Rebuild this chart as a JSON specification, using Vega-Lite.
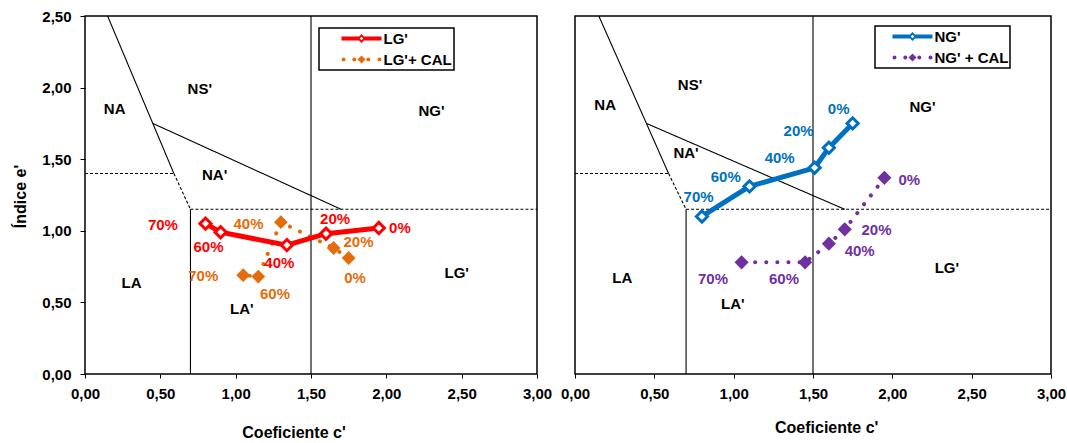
{
  "$schema": "https://vega.github.io/schema/vega-lite/v6.json",
  "background": "white",
  "padding": {"left": 11, "top": 8, "right": 0, "bottom": 0},
  "bounds": "flush",
  "spacing": 38,
  "config": {
    "view": {"stroke": "#000000", "strokeWidth": 1.5},
    "font": "Liberation Sans",
    "axis": {
      "grid": false, "domain": false,
      "labelFont": "Liberation Sans", "labelFontWeight": "bold", "labelFontSize": 15, "labelColor": "#000000",
      "titleFont": "Liberation Sans", "titleFontWeight": "bold", "titleFontSize": 16, "titleColor": "#000000",
      "tickColor": "#000000", "labelFlush": false, "labelOverlap": false
    },
    "text": {"font": "Liberation Sans", "fontWeight": "bold", "fontSize": 15}
  },
  "resolve": {
    "scale": {"color": "independent", "x": "independent", "y": "independent", "strokeDash": "independent"},
    "legend": {"color": "independent"}
  },
  "datasets": {
    "bounds": [
      {"seg": "a", "style": "solid", "ord": 1, "c": 0.15, "e": 2.5},
      {"seg": "a", "style": "solid", "ord": 2, "c": 0.59, "e": 1.4},
      {"seg": "b", "style": "dash", "ord": 1, "c": 0.59, "e": 1.4},
      {"seg": "b", "style": "dash", "ord": 2, "c": 0.7, "e": 1.15},
      {"seg": "c", "style": "solid", "ord": 1, "c": 0.45, "e": 1.75},
      {"seg": "c", "style": "solid", "ord": 2, "c": 1.7, "e": 1.15},
      {"seg": "d", "style": "dash", "ord": 1, "c": 0, "e": 1.4},
      {"seg": "d", "style": "dash", "ord": 2, "c": 0.59, "e": 1.4},
      {"seg": "e", "style": "dash", "ord": 1, "c": 0.7, "e": 1.15},
      {"seg": "e", "style": "dash", "ord": 2, "c": 3, "e": 1.15},
      {"seg": "f", "style": "solid", "ord": 1, "c": 0.7, "e": 0},
      {"seg": "f", "style": "solid", "ord": 2, "c": 0.7, "e": 1.15},
      {"seg": "g", "style": "solid", "ord": 1, "c": 1.5, "e": 0},
      {"seg": "g", "style": "solid", "ord": 2, "c": 1.5, "e": 2.5}
    ],
    "regions": [
      {"panel": "L", "name": "NA", "c": 0.197, "e": 1.848},
      {"panel": "L", "name": "NS'", "c": 0.762, "e": 1.988},
      {"panel": "L", "name": "NG'", "c": 2.30, "e": 1.837},
      {"panel": "L", "name": "NA'", "c": 0.86, "e": 1.39},
      {"panel": "L", "name": "LA", "c": 0.309, "e": 0.638},
      {"panel": "L", "name": "LA'", "c": 1.041, "e": 0.452},
      {"panel": "L", "name": "LG'", "c": 2.467, "e": 0.708},
      {"panel": "R", "name": "NA", "c": 0.19, "e": 1.877},
      {"panel": "R", "name": "NS'", "c": 0.725, "e": 2.02},
      {"panel": "R", "name": "NG'", "c": 2.19, "e": 1.865},
      {"panel": "R", "name": "NA'", "c": 0.70, "e": 1.545},
      {"panel": "R", "name": "LA", "c": 0.298, "e": 0.672},
      {"panel": "R", "name": "LA'", "c": 0.995, "e": 0.486},
      {"panel": "R", "name": "LG'", "c": 2.344, "e": 0.742}
    ],
    "series": [
      {"series": "LG'", "pct": 0, "c": 1.95, "e": 1.02},
      {"series": "LG'", "pct": 20, "c": 1.60, "e": 0.98},
      {"series": "LG'", "pct": 40, "c": 1.34, "e": 0.90},
      {"series": "LG'", "pct": 60, "c": 0.90, "e": 0.99},
      {"series": "LG'", "pct": 70, "c": 0.80, "e": 1.05},
      {"series": "LG'+ CAL", "pct": 0, "c": 1.75, "e": 0.81},
      {"series": "LG'+ CAL", "pct": 20, "c": 1.65, "e": 0.88},
      {"series": "LG'+ CAL", "pct": 40, "c": 1.30, "e": 1.06},
      {"series": "LG'+ CAL", "pct": 60, "c": 1.15, "e": 0.68},
      {"series": "LG'+ CAL", "pct": 70, "c": 1.05, "e": 0.69},
      {"series": "NG'", "pct": 0, "c": 1.75, "e": 1.75},
      {"series": "NG'", "pct": 20, "c": 1.60, "e": 1.58},
      {"series": "NG'", "pct": 40, "c": 1.51, "e": 1.44},
      {"series": "NG'", "pct": 60, "c": 1.10, "e": 1.31},
      {"series": "NG'", "pct": 70, "c": 0.80, "e": 1.10},
      {"series": "NG' + CAL", "pct": 0, "c": 1.95, "e": 1.37},
      {"series": "NG' + CAL", "pct": 20, "c": 1.70, "e": 1.01},
      {"series": "NG' + CAL", "pct": 40, "c": 1.60, "e": 0.91},
      {"series": "NG' + CAL", "pct": 60, "c": 1.45, "e": 0.78},
      {"series": "NG' + CAL", "pct": 70, "c": 1.05, "e": 0.78}
    ],
    "pctLabels": [
      {"series": "LG'", "text": "0%", "c": 2.09, "e": 1.017},
      {"series": "LG'", "text": "20%", "c": 1.66, "e": 1.085},
      {"series": "LG'", "text": "40%", "c": 1.29, "e": 0.777},
      {"series": "LG'", "text": "60%", "c": 0.82, "e": 0.887},
      {"series": "LG'", "text": "70%", "c": 0.517, "e": 1.04},
      {"series": "LG'+ CAL", "text": "0%", "c": 1.792, "e": 0.673},
      {"series": "LG'+ CAL", "text": "20%", "c": 1.815, "e": 0.924},
      {"series": "LG'+ CAL", "text": "40%", "c": 1.085, "e": 1.05},
      {"series": "LG'+ CAL", "text": "60%", "c": 1.261, "e": 0.561},
      {"series": "LG'+ CAL", "text": "70%", "c": 0.785, "e": 0.684},
      {"series": "NG'", "text": "0%", "c": 1.662, "e": 1.853},
      {"series": "NG'", "text": "20%", "c": 1.409, "e": 1.70},
      {"series": "NG'", "text": "40%", "c": 1.29, "e": 1.51},
      {"series": "NG'", "text": "60%", "c": 0.95, "e": 1.377},
      {"series": "NG'", "text": "70%", "c": 0.779, "e": 1.237},
      {"series": "NG' + CAL", "text": "0%", "c": 2.107, "e": 1.353},
      {"series": "NG' + CAL", "text": "20%", "c": 1.90, "e": 1.009},
      {"series": "NG' + CAL", "text": "40%", "c": 1.794, "e": 0.858},
      {"series": "NG' + CAL", "text": "60%", "c": 1.317, "e": 0.665},
      {"series": "NG' + CAL", "text": "70%", "c": 0.87, "e": 0.665}
    ]
  },
  "hconcat": [
    {
      "width": 452,
      "height": 358,
      "encoding": {
        "x": {
          "field": "c", "type": "quantitative",
          "scale": {"domain": [0, 3], "nice": false, "zero": false},
          "axis": {
            "values": [0, 0.5, 1, 1.5, 2, 2.5, 3],
            "labelExpr": "replace(format(datum.value, '.2f'), '.', ',')",
            "title": "Coeficiente c'", "tickSize": 4, "labelPadding": 8,
            "titleX": 208.5, "titleY": 58.4, "titleBaseline": "middle", "titleAlign": "center"
          }
        },
        "y": {
          "field": "e", "type": "quantitative",
          "scale": {"domain": [0, 2.5], "nice": false, "zero": false},
          "axis": {
            "values": [0, 0.5, 1, 1.5, 2, 2.5],
            "labelExpr": "replace(format(datum.value, '.2f'), '.', ',')",
            "title": "Índice e'", "tickSize": 5, "labelPadding": 9,
            "titleX": -64.3, "titleY": 180, "titleBaseline": "middle", "titleAlign": "center", "titleAngle": 270
          }
        }
      },
      "layer": [
        {
          "data": {"name": "bounds"},
          "mark": {"type": "line", "color": "#000000", "strokeWidth": 1.1},
          "encoding": {
            "detail": {"field": "seg"},
            "order": {"field": "ord", "type": "quantitative"},
            "strokeDash": {"field": "style", "type": "nominal", "scale": {"domain": ["solid", "dash"], "range": [[1, 0], [3, 2]]}, "legend": null}
          }
        },
        {
          "data": {"name": "regions"},
          "transform": [{"filter": {"field": "panel", "equal": "L"}}],
          "mark": {"type": "text", "color": "#000000", "align": "center", "baseline": "middle"},
          "encoding": {"text": {"field": "name"}}
        },
        {
          "data": {"name": "series"},
          "transform": [{"filter": {"field": "series", "equal": "LG'+ CAL"}}],
          "mark": {"type": "line", "strokeWidth": 4, "strokeDash": [0.1, 11], "strokeCap": "round"},
          "encoding": {
            "order": {"field": "pct", "type": "quantitative"},
            "color": {
              "field": "series", "type": "nominal",
              "scale": {"domain": ["LG'", "LG'+ CAL"], "range": ["#FF0000", "#E46C0A"]},
              "legend": {
                "title": null, "orient": "none", "legendX": 234, "legendY": 12,
                "strokeColor": "#000000", "padding": 1.5,
                "symbolSize": 1600, "symbolStrokeWidth": 0, "symbolOffset": 21, "labelOffset": 2,
                "clipHeight": 18, "rowPadding": 3,
                "labelFont": "Liberation Sans", "labelFontWeight": "bold", "labelFontSize": 15, "labelColor": "#000000", "labelLimit": 300,
                "labelExpr": "datum.label + '\u2003\u2002'",
                "encode": {
                  "legend": {"update": {"strokeWidth": {"value": 1.5}}},
                  "symbols": {"update": {
                    "shape": {"signal": "indexof(datum.value, 'CAL') >= 0 ? 'M-1,0A0.1,0.1 0 1,1 -0.8,0A0.1,0.1 0 1,1 -1,0ZM-0.46,0A0.1,0.1 0 1,1 -0.26,0A0.1,0.1 0 1,1 -0.46,0ZM-0.2,0L0,-0.2L0.2,0L0,0.2ZM0.24,0A0.1,0.1 0 1,1 0.44,0A0.1,0.1 0 1,1 0.24,0ZM0.8,0A0.1,0.1 0 1,1 1,0A0.1,0.1 0 1,1 0.8,0Z' : 'M-1,-0.1H-0.12V0.1H-1ZM0.12,-0.1H1V0.1H0.12ZM-0.22,0L0,-0.22L0.22,0L0,0.22ZM-0.09,0L0,0.09L0.09,0L0,-0.09Z'"},
                    "fill": {"signal": "indexof(datum.value, 'CAL') >= 0 ? '#E46C0A' : '#FF0000'"},
                    "stroke": {"value": "transparent"},
                    "strokeWidth": {"value": 0},
                    "opacity": {"value": 1}
                  }}
                }
              }
            }
          }
        },
        {
          "data": {"name": "series"},
          "transform": [{"filter": {"field": "series", "equal": "LG'+ CAL"}}],
          "mark": {"type": "point", "shape": "diamond", "filled": true, "fill": "#E46C0A", "strokeWidth": 0, "size": 190, "opacity": 1}
        },
        {
          "data": {"name": "series"},
          "transform": [{"filter": {"field": "series", "equal": "LG'"}}],
          "mark": {"type": "line", "strokeWidth": 5},
          "encoding": {
            "order": {"field": "pct", "type": "quantitative"},
            "color": {"field": "series", "type": "nominal", "scale": {"domain": ["LG'", "LG'+ CAL"], "range": ["#FF0000", "#E46C0A"]}}
          }
        },
        {
          "data": {"name": "series"},
          "transform": [{"filter": {"field": "series", "equal": "LG'"}}],
          "mark": {"type": "point", "shape": "diamond", "filled": true, "fill": "#FFFFFF", "stroke": "#FF0000", "strokeWidth": 3, "size": 125, "opacity": 1}
        },
        {
          "data": {"name": "pctLabels"},
          "transform": [{"filter": {"field": "series", "equal": "LG'"}}],
          "mark": {"type": "text", "color": "#FF0000", "align": "center", "baseline": "middle"},
          "encoding": {"text": {"field": "text"}}
        },
        {
          "data": {"name": "pctLabels"},
          "transform": [{"filter": {"field": "series", "equal": "LG'+ CAL"}}],
          "mark": {"type": "text", "color": "#E46C0A", "align": "center", "baseline": "middle"},
          "encoding": {"text": {"field": "text"}}
        }
      ]
    },
    {
      "width": 476,
      "height": 358,
      "encoding": {
        "x": {
          "field": "c", "type": "quantitative",
          "scale": {"domain": [0, 3], "nice": false, "zero": false},
          "axis": {
            "values": [0, 0.5, 1, 1.5, 2, 2.5, 3],
            "labelExpr": "replace(format(datum.value, '.2f'), '.', ',')",
            "title": "Coeficiente c'", "tickSize": 4, "labelPadding": 8,
            "titleX": 251.2, "titleY": 53.4, "titleBaseline": "middle", "titleAlign": "center"
          }
        },
        "y": {
          "field": "e", "type": "quantitative",
          "scale": {"domain": [0, 2.5], "nice": false, "zero": false},
          "axis": null
        }
      },
      "layer": [
        {
          "data": {"name": "bounds"},
          "mark": {"type": "line", "color": "#000000", "strokeWidth": 1.1},
          "encoding": {
            "detail": {"field": "seg"},
            "order": {"field": "ord", "type": "quantitative"},
            "strokeDash": {"field": "style", "type": "nominal", "scale": {"domain": ["solid", "dash"], "range": [[1, 0], [3, 2]]}, "legend": null}
          }
        },
        {
          "data": {"name": "regions"},
          "transform": [{"filter": {"field": "panel", "equal": "R"}}],
          "mark": {"type": "text", "color": "#000000", "align": "center", "baseline": "middle"},
          "encoding": {"text": {"field": "name"}}
        },
        {
          "data": {"name": "series"},
          "transform": [{"filter": {"field": "series", "equal": "NG' + CAL"}}],
          "mark": {"type": "line", "strokeWidth": 4, "strokeDash": [0.1, 11], "strokeCap": "round"},
          "encoding": {
            "order": {"field": "pct", "type": "quantitative"},
            "color": {
              "field": "series", "type": "nominal",
              "scale": {"domain": ["NG'", "NG' + CAL"], "range": ["#0070C0", "#7030A0"]},
              "legend": {
                "title": null, "orient": "none", "legendX": 300, "legendY": 10,
                "strokeColor": "#000000", "padding": 1.5,
                "symbolSize": 1600, "symbolStrokeWidth": 0, "symbolOffset": 16, "labelOffset": 2,
                "clipHeight": 18, "rowPadding": 3,
                "labelFont": "Liberation Sans", "labelFontWeight": "bold", "labelFontSize": 15, "labelColor": "#000000", "labelLimit": 300,
                "labelExpr": "datum.label + '\u2003\u2005'",
                "encode": {
                  "legend": {"update": {"strokeWidth": {"value": 1.5}}},
                  "symbols": {"update": {
                    "shape": {"signal": "indexof(datum.value, 'CAL') >= 0 ? 'M-1,0A0.1,0.1 0 1,1 -0.8,0A0.1,0.1 0 1,1 -1,0ZM-0.46,0A0.1,0.1 0 1,1 -0.26,0A0.1,0.1 0 1,1 -0.46,0ZM-0.2,0L0,-0.2L0.2,0L0,0.2ZM0.24,0A0.1,0.1 0 1,1 0.44,0A0.1,0.1 0 1,1 0.24,0ZM0.8,0A0.1,0.1 0 1,1 1,0A0.1,0.1 0 1,1 0.8,0Z' : 'M-1,-0.1H-0.12V0.1H-1ZM0.12,-0.1H1V0.1H0.12ZM-0.22,0L0,-0.22L0.22,0L0,0.22ZM-0.09,0L0,0.09L0.09,0L0,-0.09Z'"},
                    "fill": {"signal": "indexof(datum.value, 'CAL') >= 0 ? '#7030A0' : '#0070C0'"},
                    "stroke": {"value": "transparent"},
                    "strokeWidth": {"value": 0},
                    "opacity": {"value": 1}
                  }}
                }
              }
            }
          }
        },
        {
          "data": {"name": "series"},
          "transform": [{"filter": {"field": "series", "equal": "NG' + CAL"}}],
          "mark": {"type": "point", "shape": "diamond", "filled": true, "fill": "#7030A0", "strokeWidth": 0, "size": 200, "opacity": 1}
        },
        {
          "data": {"name": "series"},
          "transform": [{"filter": {"field": "series", "equal": "NG'"}}],
          "mark": {"type": "line", "strokeWidth": 5},
          "encoding": {
            "order": {"field": "pct", "type": "quantitative"},
            "color": {"field": "series", "type": "nominal", "scale": {"domain": ["NG'", "NG' + CAL"], "range": ["#0070C0", "#7030A0"]}}
          }
        },
        {
          "data": {"name": "series"},
          "transform": [{"filter": {"field": "series", "equal": "NG'"}}],
          "mark": {"type": "point", "shape": "diamond", "filled": true, "fill": "#FFFFFF", "stroke": "#0070C0", "strokeWidth": 3, "size": 125, "opacity": 1}
        },
        {
          "data": {"name": "pctLabels"},
          "transform": [{"filter": {"field": "series", "equal": "NG'"}}],
          "mark": {"type": "text", "color": "#0070C0", "align": "center", "baseline": "middle"},
          "encoding": {"text": {"field": "text"}}
        },
        {
          "data": {"name": "pctLabels"},
          "transform": [{"filter": {"field": "series", "equal": "NG' + CAL"}}],
          "mark": {"type": "text", "color": "#7030A0", "align": "center", "baseline": "middle"},
          "encoding": {"text": {"field": "text"}}
        }
      ]
    }
  ]
}
